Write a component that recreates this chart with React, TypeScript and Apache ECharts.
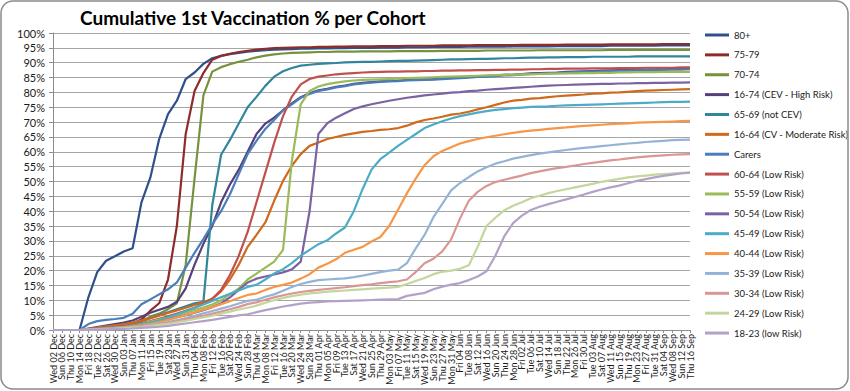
import React, { useEffect, useRef } from "react";
import * as echarts from "echarts";

const dateLabels = [
  "Wed 02 Dec", "Sun 06 Dec", "Thu 10 Dec", "Mon 14 Dec", "Fri 18 Dec", "Tue 22 Dec", "Sat 26 Dec", "Wed 30 Dec",
  "Sun 03 Jan", "Thu 07 Jan", "Mon 11 Jan", "Fri 15 Jan", "Tue 19 Jan", "Sat 23 Jan", "Wed 27 Jan", "Sun 31 Jan",
  "Thu 04 Feb", "Mon 08 Feb", "Fri 12 Feb", "Tue 16 Feb", "Sat 20 Feb", "Wed 24 Feb", "Sun 28 Feb",
  "Thu 04 Mar", "Mon 08 Mar", "Fri 12 Mar", "Tue 16 Mar", "Sat 20 Mar", "Wed 24 Mar", "Sun 28 Mar",
  "Thu 01 Apr", "Mon 05 Apr", "Fri 09 Apr", "Tue 13 Apr", "Sat 17 Apr", "Wed 21 Apr", "Sun 25 Apr", "Thu 29 Apr",
  "Mon 03 May", "Fri 07 May", "Tue 11 May", "Sat 15 May", "Wed 19 May", "Sun 23 May", "Thu 27 May", "Mon 31 May",
  "Fri 04 Jun", "Tue 08 Jun", "Sat 12 Jun", "Wed 16 Jun", "Sun 20 Jun", "Thu 24 Jun", "Mon 28 Jun",
  "Fri 02 Jul", "Tue 06 Jul", "Sat 10 Jul", "Wed 14 Jul", "Sun 18 Jul", "Thu 22 Jul", "Mon 26 Jul", "Fri 30 Jul",
  "Tue 03 Aug", "Sat 07 Aug", "Wed 11 Aug", "Sun 15 Aug", "Thu 19 Aug", "Mon 23 Aug", "Fri 27 Aug", "Tue 31 Aug",
  "Sat 04 Sep", "Wed 08 Sep", "Sun 12 Sep", "Thu 16 Sep",
];

const yTicks = [0, 100, 5]; // min, max, step (percent)

const seriesNames = [
  "80+", "75-79", "70-74", "16-74 (CEV - High Risk)", "65-69 (not CEV)", "16-64 (CV - Moderate Risk)",
  "Carers", "60-64 (Low Risk)", "55-59 (Low Risk)", "50-54 (Low Risk)", "45-49 (Low Risk)", "40-44 (Low Risk)",
  "35-39 (Low Risk)", "30-34 (Low Risk)", "24-29 (Low Risk)", "18-23 (low Risk)",
];

const seriesColors = [
  "#30508C", "#8E2C2B", "#76923C", "#54417A", "#31859C", "#D0691C",
  "#4A7EBB", "#C0504D", "#9BBB59", "#7B62A3", "#4BACC6", "#F79646",
  "#95B3D7", "#D99694", "#C3D69B", "#B3A2C7",
];

const age80plus = [
  0, 0, 0, 0, 11, 19.5, 23.3, 24.8, 26.4, 27.5, 43, 51.3, 64.3, 72.7, 77.2, 84.5, 86.7, 89.6, 91.5, 92.3,
  92.9, 93.3, 93.7, 94, 94.2, 94.4, 94.5, 94.6, 94.7, 94.7, 94.8, 94.8, 94.9, 94.9, 95, 95, 95, 95.1, 95.1, 95.1,
  95.2, 95.2, 95.2, 95.3, 95.3, 95.3, 95.3, 95.4, 95.4, 95.4, 95.4, 95.4, 95.5, 95.5, 95.5, 95.5, 95.5, 95.6, 95.6, 95.6,
  95.6, 95.6, 95.6, 95.7, 95.7, 95.7, 95.7, 95.7, 95.7, 95.8, 95.8, 95.8, 95.8,
];
const age75to79 = [
  0, 0, 0, 0, 0.3, 0.6, 0.9, 1.2, 1.6, 2.2, 3.5, 6.5, 9, 17, 35, 66, 80.5, 86.5, 91, 92.3,
  93, 93.6, 94, 94.4, 94.7, 94.9, 95, 95.1, 95.2, 95.2, 95.3, 95.3, 95.4, 95.4, 95.5, 95.5, 95.5, 95.6, 95.6, 95.6,
  95.7, 95.7, 95.7, 95.7, 95.8, 95.8, 95.8, 95.8, 95.9, 95.9, 95.9, 95.9, 95.9, 96, 96, 96, 96, 96, 96.1, 96.1,
  96.1, 96.1, 96.1, 96.2, 96.2, 96.2, 96.2, 96.2, 96.2, 96.3, 96.3, 96.3, 96.3,
];
const age70to74 = [
  0, 0, 0, 0, 0.3, 0.6, 0.9, 1.2, 1.5, 2, 3, 4.5, 5.5, 7, 9, 22, 51, 79, 87, 88.5,
  89.5, 90.3, 91, 91.8, 92.4, 92.8, 93.1, 93.3, 93.4, 93.5, 93.6, 93.6, 93.7, 93.7, 93.7, 93.8, 93.8, 93.8, 93.8, 93.9,
  93.9, 93.9, 93.9, 93.9, 94, 94, 94, 94, 94, 94.1, 94.1, 94.1, 94.1, 94.1, 94.1, 94.2, 94.2, 94.2, 94.2, 94.2,
  94.2, 94.2, 94.2, 94.3, 94.3, 94.3, 94.3, 94.3, 94.3, 94.3, 94.3, 94.3, 94.3,
];
const cev16to74 = [
  0, 0, 0, 0, 0.5, 1, 1.5, 2, 2.5, 3.2, 4.5, 5.8, 6.8, 7.8, 9.5, 14, 22, 29, 35, 43,
  49, 54, 60, 66, 69.5, 71.5, 74, 76.3, 78.4, 79.7, 80.7, 81.2, 81.9, 82.3, 82.9, 83.2, 83.5, 83.7, 83.9, 84,
  84.2, 84.3, 84.4, 84.5, 84.7, 84.9, 85, 85.2, 85.4, 85.5, 85.7, 85.9, 86, 86.2, 86.4, 86.5, 86.6, 86.7, 86.9, 87,
  87.1, 87.2, 87.3, 87.4, 87.5, 87.6, 87.6, 87.7, 87.8, 87.8, 87.9, 87.9, 88,
];
const age65to69 = [
  0, 0, 0, 0, 0.3, 0.6, 0.9, 1.2, 1.5, 2, 3, 4, 5, 6, 7, 8, 9, 9.5, 42, 59,
  64, 69.5, 75, 78.5, 82.2, 85.3, 87.1, 88.2, 89, 89.3, 89.6, 89.8, 89.9, 90.1, 90.2, 90.3, 90.3, 90.4, 90.5, 90.6,
  90.6, 90.7, 90.8, 90.9, 91, 91.1, 91.1, 91.2, 91.3, 91.3, 91.4, 91.5, 91.5, 91.6, 91.7, 91.7, 91.8, 91.8, 91.9, 91.9,
  91.9, 92, 92, 92, 92, 92, 92.1, 92.1, 92.1, 92.1, 92.1, 92.1, 92.1,
];
const cv16to64 = [
  0, 0, 0, 0, 0.4, 0.8, 1.2, 1.6, 2, 2.5, 3.2, 4, 4.8, 5.7, 6.6, 7.5, 8.4, 9.3, 10.5, 13,
  17, 22, 28, 32, 36.2, 43.5, 50.2, 55.3, 59.2, 62, 63.1, 64.3, 65, 65.7, 66.2, 66.7, 67, 67.4, 67.6, 68,
  68.8, 69.9, 70.7, 71.2, 71.8, 72.5, 72.9, 73.5, 74.3, 75, 75.8, 76.6, 77.2, 77.5, 77.9, 78.1, 78.4, 78.7, 78.9, 79.1,
  79.3, 79.6, 79.7, 79.9, 80, 80.2, 80.4, 80.6, 80.7, 80.8, 80.9, 81, 81.1,
];
const carers = [
  0, 0, 0, 0, 2, 3, 3.4, 3.7, 4.1, 5.5, 8.7, 10.3, 12, 13.7, 16, 21, 26, 30.6, 35.6, 40,
  45.7, 52.5, 59.2, 63.7, 67.7, 70.7, 74, 76, 78.2, 79.5, 80.5, 81, 81.7, 82.1, 82.7, 83, 83.3, 83.5, 83.7, 83.8,
  84, 84.1, 84.2, 84.3, 84.5, 84.6, 84.8, 85, 85.2, 85.3, 85.5, 85.7, 85.8, 86, 86.2, 86.3, 86.4, 86.6, 86.7, 86.8,
  86.9, 87, 87.1, 87.2, 87.3, 87.3, 87.4, 87.5, 87.6, 87.6, 87.7, 87.7, 87.8,
];
const age60to64 = [
  0, 0, 0, 0, 0.3, 0.5, 0.7, 0.9, 1.2, 1.6, 2.3, 3, 3.8, 4.6, 5.5, 6.5, 7.5, 8.8, 10.5, 13.5,
  18.5, 25, 33, 43, 53, 63, 72, 78.6, 82.7, 84.5, 85.3, 85.7, 86.1, 86.3, 86.5, 86.7, 86.8, 86.9, 87, 87,
  87.1, 87.1, 87.2, 87.2, 87.3, 87.3, 87.4, 87.4, 87.5, 87.5, 87.6, 87.6, 87.7, 87.7, 87.8, 87.8, 87.9, 87.9, 88, 88,
  88, 88.1, 88.1, 88.1, 88.2, 88.2, 88.2, 88.3, 88.3, 88.3, 88.3, 88.4, 88.4,
];
const age55to59 = [
  0, 0, 0, 0, 0.2, 0.4, 0.6, 0.8, 1.1, 1.5, 2.1, 2.8, 3.5, 4.2, 5, 5.8, 6.7, 7.6, 8.6, 10,
  12, 14, 17, 19, 21, 23, 27, 57, 76, 80.5, 82, 82.8, 83.3, 83.7, 84, 84.2, 84.3, 84.4, 84.5, 84.6,
  84.8, 84.9, 85, 85.1, 85.2, 85.3, 85.4, 85.5, 85.6, 85.7, 85.8, 85.9, 86, 86.1, 86.1, 86.2, 86.3, 86.3, 86.4, 86.4,
  86.5, 86.5, 86.6, 86.6, 86.7, 86.7, 86.8, 86.8, 86.8, 86.9, 86.9, 86.9, 86.9,
];
const age50to54 = [
  0, 0, 0, 0, 0.2, 0.4, 0.6, 0.8, 1, 1.3, 1.8, 2.4, 3, 3.6, 4.3, 5, 5.8, 6.7, 7.7, 9,
  11, 13.5, 16, 17.3, 18, 18.7, 19.4, 20.4, 23, 40, 66, 69.6, 71.5, 73, 74.4, 75.3, 76, 76.6, 77.2, 77.7,
  78.2, 78.6, 79, 79.3, 79.6, 79.9, 80.1, 80.4, 80.6, 80.9, 81.1, 81.3, 81.5, 81.7, 81.9, 82.1, 82.3, 82.4, 82.5, 82.6,
  82.7, 82.8, 82.9, 82.9, 83, 83, 83.1, 83.1, 83.2, 83.2, 83.3, 83.3, 83.4,
];
const age45to49 = [
  0, 0, 0, 0, 0.2, 0.4, 0.6, 0.8, 1, 1.3, 1.8, 2.4, 3.2, 4.2, 5.3, 6.4, 7.5, 8.6, 9.8, 11,
  12.2, 13.3, 14.5, 15.2, 17, 19, 20.5, 22.5, 25, 27, 28.9, 30.2, 32.5, 34.5, 40, 47.5, 54, 57.5, 59.7, 62,
  64, 66, 68, 69.2, 70.3, 71.2, 72, 72.6, 73.2, 73.7, 74.1, 74.4, 74.7, 74.9, 75.1, 75.2, 75.3, 75.5, 75.6, 75.7,
  75.8, 75.9, 76, 76.1, 76.2, 76.3, 76.4, 76.5, 76.6, 76.7, 76.8, 76.8, 76.9,
];
const age40to44 = [
  0, 0, 0, 0, 0.1, 0.3, 0.5, 0.7, 0.9, 1.2, 1.6, 2.1, 2.7, 3.4, 4.2, 5, 5.9, 6.8, 7.7, 8.7,
  9.7, 10.8, 11.8, 12.3, 13.5, 14.5, 15.2, 16, 17.3, 18.8, 21, 22.3, 23.8, 26, 27, 28, 29.8, 31.3, 35, 40.5,
  46, 51, 55.5, 58.5, 60.3, 61.5, 62.8, 63.6, 64.3, 64.9, 65.4, 65.9, 66.4, 66.8, 67.1, 67.4, 67.7, 68, 68.2, 68.5,
  68.7, 68.9, 69.1, 69.3, 69.5, 69.6, 69.8, 69.9, 70, 70.1, 70.2, 70.3, 70.4,
];
const age35to39 = [
  0, 0, 0, 0, 0.1, 0.2, 0.4, 0.6, 0.8, 1, 1.3, 1.7, 2.2, 2.7, 3.3, 4, 4.8, 5.6, 6.4, 7.2,
  8, 8.9, 9.8, 10.2, 11.2, 12, 13.2, 14.5, 15.5, 16.2, 16.8, 17, 17.2, 17.4, 17.8, 18.3, 18.9, 19.5, 20, 20.3,
  22.5, 27.5, 32, 38, 42.5, 47, 49.5, 51.5, 53.4, 54.8, 56, 56.8, 57.7, 58.3, 58.9, 59.4, 59.8, 60.2, 60.6, 61,
  61.3, 61.6, 61.9, 62.2, 62.5, 62.8, 63, 63.3, 63.5, 63.7, 63.9, 64, 64.1,
];
const age30to34 = [
  0, 0, 0, 0, 0.1, 0.2, 0.3, 0.5, 0.7, 0.9, 1.2, 1.5, 1.9, 2.4, 3, 3.6, 4.2, 4.8, 5.5, 6.2,
  7, 7.8, 8.7, 9.3, 10.2, 11, 11.7, 12.3, 12.8, 13.2, 13.5, 13.8, 14.1, 14.4, 14.8, 15.1, 15.4, 15.8, 16.1, 16.4,
  17, 19.5, 22.5, 24, 26.5, 30.5, 37.5, 43.5, 46.5, 48.5, 49.8, 50.6, 51.3, 52, 52.8, 53.4, 54, 54.5, 54.9, 55.4,
  55.9, 56.3, 56.7, 57.1, 57.4, 57.8, 58.1, 58.4, 58.6, 58.8, 59, 59.1, 59.2,
];
const age24to29 = [
  0, 0, 0, 0, 0.1, 0.2, 0.3, 0.4, 0.6, 0.8, 1, 1.3, 1.7, 2.1, 2.6, 3.1, 3.7, 4.2, 4.8, 5.5,
  6.2, 6.9, 7.5, 8.2, 9.2, 10, 10.8, 11.4, 11.9, 12.3, 12.6, 12.9, 13.1, 13.3, 13.5, 13.7, 13.9, 14.1, 14.3, 14.5,
  15.5, 16.5, 17.5, 18.8, 19.6, 20, 20.6, 21.8, 28, 35, 37.8, 40.3, 41.8, 43, 44.4, 45.2, 46.1, 46.8, 47.4, 48,
  48.6, 49.2, 49.9, 50.4, 50.9, 51.4, 51.7, 52, 52.3, 52.5, 52.7, 52.9, 53,
];
const age18to23 = [
  0, 0, 0, 0, 0.1, 0.1, 0.2, 0.3, 0.4, 0.5, 0.7, 0.9, 1.1, 1.4, 1.8, 2.2, 2.6, 3, 3.4, 3.9,
  4.4, 4.9, 5.3, 6, 6.7, 7.3, 7.9, 8.4, 8.9, 9.2, 9.4, 9.6, 9.7, 9.8, 9.9, 10, 10.1, 10.2, 10.3, 10.4,
  11.5, 12, 12.5, 13.7, 14.6, 15.3, 15.8, 16.8, 18, 19.8, 25, 31.5, 36, 38.5, 40.4, 41.5, 42.4, 43.2, 44, 44.8,
  45.6, 46.5, 47.3, 48, 48.6, 49.4, 50.2, 50.8, 51.4, 51.9, 52.3, 52.7, 53,
];

const seriesValues = [
  age80plus, age75to79, age70to74, cev16to74, age65to69, cv16to64,
  carers, age60to64, age55to59, age50to54, age45to49, age40to44,
  age35to39, age30to34, age24to29, age18to23,
];

const FONT = "Lato, 'Liberation Sans', sans-serif";

export default function App() {
  const ref = useRef<HTMLDivElement>(null);
  useEffect(() => {
    if (!ref.current) return;
    const chart = echarts.init(ref.current, null, { renderer: "svg" });
    chart.setOption({
      animation: false,
      backgroundColor: "#ffffff",
      textStyle: { fontFamily: FONT },
      title: {
        text: "Cumulative 1st Vaccination % per Cohort",
        left: 75,
        top: 3,
        textStyle: { fontFamily: FONT, fontSize: 19, fontWeight: "bold", color: "#000000" },
      },
      graphic: [
        {
          type: "rect",
          shape: { x: 1, y: 1, width: 847, height: 388, r: 12 },
          style: { fill: "none", stroke: "#8a8a8a", lineWidth: 1.5 },
          silent: true,
          z: 100,
        },
      ],
      legend: {
        orient: "vertical",
        left: 700,
        top: 23,
        icon: "rect",
        itemWidth: 24,
        itemHeight: 3,
        itemGap: 5.87,
        textStyle: { fontFamily: FONT, fontSize: 9.5, color: "#1a1a1a", lineHeight: 14 },
        data: seriesNames,
      },
      grid: { left: 53, right: 160, top: 33, bottom: 61, containLabel: false },
      xAxis: {
        type: "category",
        boundaryGap: false,
        data: dateLabels,
        axisLine: { show: true, lineStyle: { color: "#8c8c8c", width: 1 } },
        axisTick: { show: true, length: 3, interval: 0, lineStyle: { color: "#8c8c8c" } },
        axisLabel: { interval: 0, rotate: 90, fontSize: 9, color: "#1a1a1a", margin: 4, fontFamily: FONT },
        splitLine: { show: false },
      },
      yAxis: {
        type: "value",
        min: yTicks[0],
        max: yTicks[1],
        interval: yTicks[2],
        axisLine: { show: true, lineStyle: { color: "#8c8c8c", width: 1 } },
        axisTick: { show: true, length: 4, lineStyle: { color: "#8c8c8c" } },
        axisLabel: { formatter: "{value}%", fontSize: 11, color: "#1a1a1a", margin: 8, fontFamily: FONT },
        splitLine: { show: true, lineStyle: { color: "#a6a6a6", width: 1 } },
      },
      series: seriesNames.map((name, i) => ({
        name,
        type: "line",
        data: seriesValues[i],
        symbol: "none",
        showSymbol: false,
        color: seriesColors[i],
        lineStyle: { width: 2.2, color: seriesColors[i] },
        emphasis: { disabled: true },
      })),
    });
    return () => chart.dispose();
  }, []);
  return (
    <div
      ref={ref}
      style={{ position: "fixed", left: 0, top: 0, width: 850, height: 391 }}
    />
  );
}
